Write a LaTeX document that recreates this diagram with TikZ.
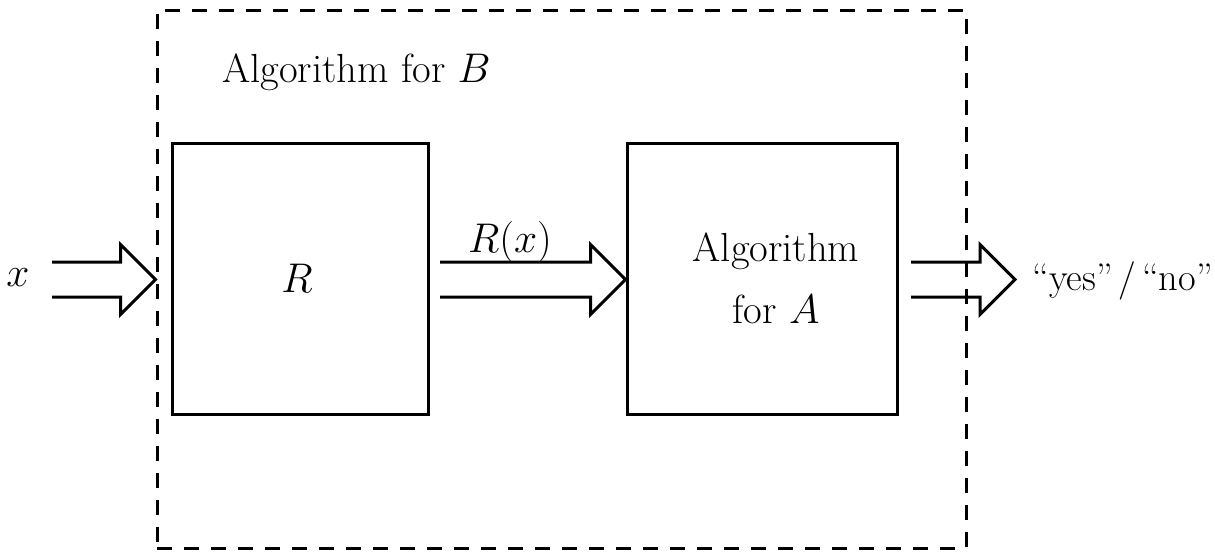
\documentclass[tikz,border=0pt]{standalone}
\usepackage{fontspec}
\usetikzlibrary{calc}
\tikzset{
  boxnode/.style={draw,line width=1.5pt,minimum width=128pt,minimum height=135.5pt,inner sep=0pt},
  lbl/.style={inner sep=0pt,font=\fontsize{20.3}{24}\selectfont},
  fatarrow/.style={draw,line width=1.5pt,miter limit=10},
  outerbox/.style={draw,line width=1.5pt,dash pattern=on 7.5pt off 6pt},
}
\newcommand\hollowarrow[2]{%
  \path[fatarrow] let \p1=(#1), \p2=(#2) in
    (\x1,\y1+8.75pt) -- (\x2-17.5pt,\y1+8.75pt) -- (\x2-17.5pt,\y1+17.5pt)
    -- (\x2,\y1) -- (\x2-17.5pt,\y1-17.5pt) -- (\x2-17.5pt,\y1-8.75pt) -- (\x1,\y1-8.75pt);}
\begin{document}
\begin{tikzpicture}[x=0.5pt,y=-0.5pt]
\useasboundingbox (0,0) rectangle (1215,554);
\node[outerbox,minimum width=404.5pt,minimum height=269pt,inner sep=0pt] (B) at (561.5,279) {};
\node[boxnode] (R) at (300,278.5) {};
\node[boxnode,minimum width=135pt] (A) at (762,278.5) {};
\node[lbl,anchor=west] (Btitle) at (222,72) {Algorithm for $B$};
\node[lbl] (Rlabel) at (297,278) {$R$};
\node[lbl,align=center] (Alabel) at (776,278) {Algorithm\\[7pt]for $A$};
\node[lbl] (x) at (18,278) {$x$};
\node[lbl] (Rx) at (510,242) {$R(x)$};
\node[lbl,anchor=west,font=\fontsize{19.2}{22}\selectfont] (yn) at (1032,281) {“yes”\kern3pt/\kern3pt“no”};
\coordinate (in0) at (52,279.5);
\coordinate (in1) at (B.west |- in0);
\coordinate (mid0) at (440,279.5);
\coordinate (mid1) at (A.west |- mid0);
\coordinate (out0) at (911,279.5);
\coordinate (out1) at (1015,279.5);
\hollowarrow{in0}{in1}
\hollowarrow{mid0}{mid1}
\hollowarrow{out0}{out1}
\end{tikzpicture}
\end{document}
